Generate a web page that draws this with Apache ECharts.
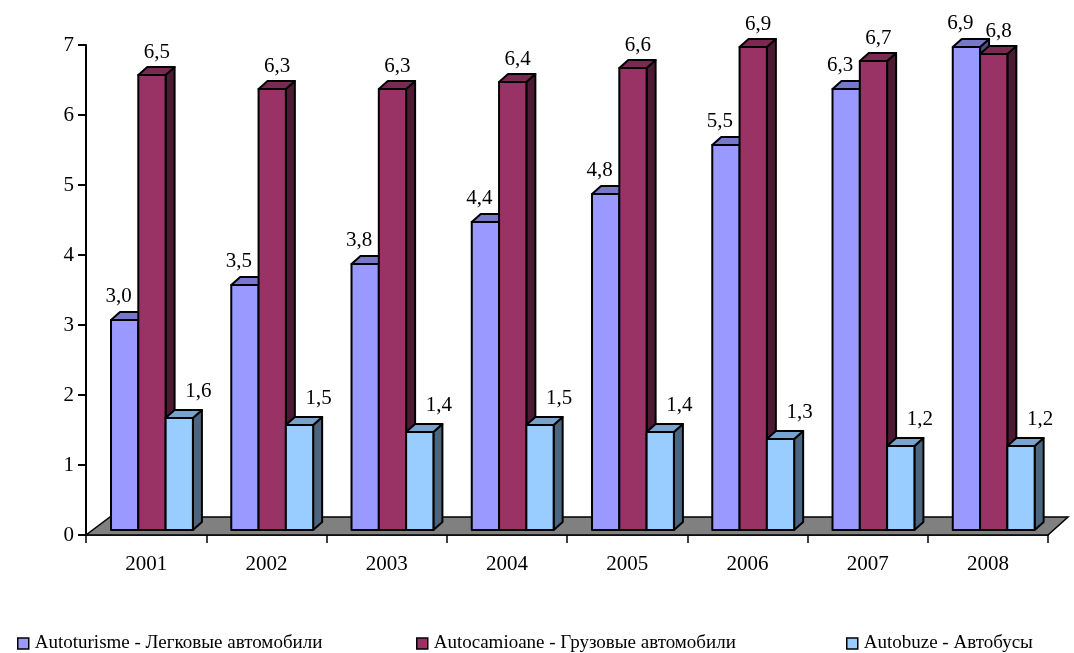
<!DOCTYPE html>
<html>
<head>
<meta charset="utf-8">
<script src="https://cdn.jsdelivr.net/npm/echarts@6/dist/echarts.min.js"></script>
<style>
  html, body { margin: 0; padding: 0; background: #fff; }
  #chart { width: 1074px; height: 653px; }
</style>
</head>
<body>
<div id="chart"></div>
<script>
  // данные
  var years = ['2001', '2002', '2003', '2004', '2005', '2006', '2007', '2008'];
  var autoturisme = [3.0, 3.5, 3.8, 4.4, 4.8, 5.5, 6.3, 6.9];
  var autocamioane = [6.5, 6.3, 6.3, 6.4, 6.6, 6.9, 6.7, 6.8];
  var autobuze = [1.6, 1.5, 1.4, 1.5, 1.4, 1.3, 1.2, 1.2];
  var seriesNames = [
    'Autoturisme - Легковые автомобили',
    'Autocamioane - Грузовые автомобили',
    'Autobuze - Автобусы'
  ];
  var seriesValues = [autoturisme, autocamioane, autobuze];

  // стили граней
  var frontColors = ['#9999FF', '#993366', '#99CCFF'];
  var topColors = ['#7777CC', '#7A2952', '#77A3CC'];
  var sideColors = ['#4D4D80', '#4D1A33', '#4D6680'];
  var labelDx = [-6, 5, 19];
  var labelDy = [24, 23, 27];
  var font = 'Liberation Serif';

  function fmt(v) {
    return v.toFixed(1).replace('.', ',');
  }

  function barRenderer(k) {
    return function (params, api) {
      var cat = api.value(0), val = api.value(1);
      var base = api.coord([cat, 0]);
      var top = api.coord([cat, val]);
      var band = api.size([1, 0])[0];
      var w = band * 0.227;
      var x0 = base[0] - band / 2 + band * 0.208 + k * w;
      var yb = base[1] - 5, yt = top[1] - 5;
      var dx = 9, dy = 8;
      var stroke = { stroke: '#000', lineWidth: 2, lineJoin: 'round' };
      return {
        type: 'group',
        children: [
          {
            type: 'polygon',
            shape: { points: [[x0 + w, yt], [x0 + w + dx, yt - dy], [x0 + w + dx, yb - dy], [x0 + w, yb]] },
            style: Object.assign({ fill: sideColors[k] }, stroke)
          },
          {
            type: 'polygon',
            shape: { points: [[x0, yt], [x0 + dx, yt - dy], [x0 + w + dx, yt - dy], [x0 + w, yt]] },
            style: Object.assign({ fill: topColors[k] }, stroke)
          },
          {
            type: 'rect',
            shape: { x: x0, y: yt, width: w, height: yb - yt },
            style: Object.assign({ fill: frontColors[k] }, stroke)
          },
          {
            type: 'text',
            x: x0 + w / 2 + labelDx[k],
            y: yt - labelDy[k],
            style: {
              text: fmt(val),
              fill: '#000',
              font: '21px "' + font + '"',
              align: 'center',
              verticalAlign: 'middle'
            }
          }
        ]
      };
    };
  }

  // пол (серая плоскость)
  function floorRenderer(params, api) {
    var cs = params.coordSys;
    var yb = cs.y + cs.height;
    return {
      type: 'polygon',
      shape: {
        points: [[cs.x, yb], [cs.x + cs.width, yb], [cs.x + cs.width + 20, yb - 18], [cs.x + 24, yb - 18]]
      },
      style: { fill: '#808080', stroke: '#000', lineWidth: 1.5 }
    };
  }

  var series = [{
    type: 'custom',
    name: 'floor',
    renderItem: floorRenderer,
    data: [[0, 0]],
    silent: true,
    clip: false,
    z: 1
  }];
  seriesValues.forEach(function (vals, k) {
    series.push({
      type: 'custom',
      name: seriesNames[k],
      renderItem: barRenderer(k),
      itemStyle: { color: frontColors[k] },
      data: vals.map(function (v, i) { return [i, v]; }),
      clip: false,
      z: 2 + k
    });
  });

  var legendBase = {
    top: 629,
    icon: 'rect',
    itemWidth: 11,
    itemHeight: 11,
    itemGap: 6,
    itemStyle: { borderColor: '#000', borderWidth: 1.5 },
    textStyle: { color: '#000', fontFamily: font, fontSize: 19, padding: [0, 0, 0, 1] }
  };
  var legendLefts = [12, 411, 841];

  var chart = echarts.init(document.getElementById('chart'));
  chart.setOption({
    animation: false,
    backgroundColor: '#fff',
    grid: { left: 86, right: 26, top: 45, bottom: 118 },
    legend: seriesNames.map(function (n, k) {
      return Object.assign({ data: [n], left: legendLefts[k] }, legendBase);
    }),
    xAxis: {
      type: 'category',
      data: years,
      axisLine: { lineStyle: { color: '#000', width: 1.5 } },
      axisTick: { show: true, length: 8, lineStyle: { color: '#000', width: 1.5 } },
      axisLabel: { color: '#000', fontFamily: font, fontSize: 21, margin: 19 },
      splitLine: { show: false }
    },
    yAxis: {
      type: 'value',
      min: 0,
      max: 7,
      interval: 1,
      axisLine: { show: true, lineStyle: { color: '#000', width: 2 } },
      axisTick: { show: true, length: 8, lineStyle: { color: '#000', width: 2 } },
      axisLabel: { color: '#000', fontFamily: font, fontSize: 21, margin: 12 },
      splitLine: { show: false }
    },
    series: series
  });
</script>
</body>
</html>
